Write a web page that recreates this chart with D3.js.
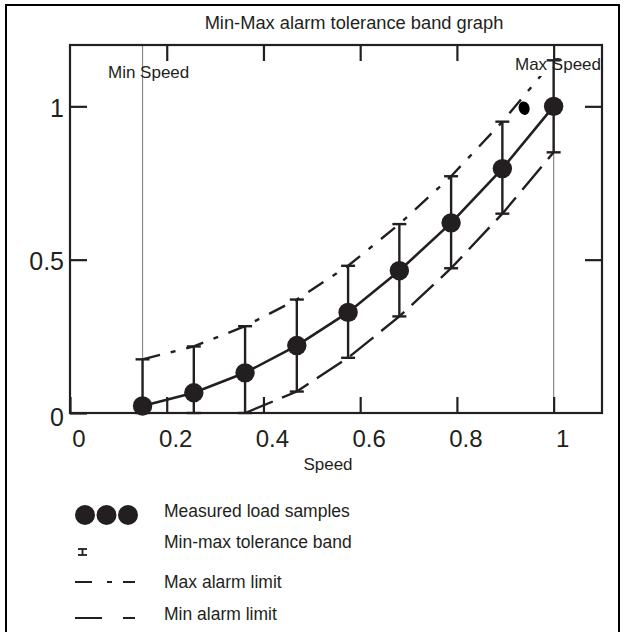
<!DOCTYPE html>
<html>
<head>
<meta charset="utf-8">
<script src="https://cdn.jsdelivr.net/npm/d3@7"></script>
<style>
  body { margin: 0; background: #fff; }
  svg text { font-family: 'Liberation Sans', Arial, sans-serif; fill: #231f20; }
</style>
</head>
<body>
<div id="chart"></div>
<script>
// speed of each measured sample (x) and its load (y)
const speeds = [0.15, 0.256, 0.362, 0.469, 0.575, 0.681, 0.788, 0.894, 1.0];
const loads = [0.023, 0.066, 0.131, 0.22, 0.328, 0.464, 0.62, 0.797, 1.0];
// min-max tolerance band around each sample
const bandLow = [0, 0, 0, 0.07, 0.18, 0.315, 0.472, 0.65, 0.85];
const bandHigh = [0.175, 0.217, 0.283, 0.37, 0.48, 0.616, 0.772, 0.95, 1.15];
// alarm limit lines (index range of the band they follow)
const maxAlarmIdx = [0, 1, 2, 3, 4, 5, 6, 7, 8];
const minAlarmIdx = [2, 3, 4, 5, 6, 7, 8];
// stray blob printed next to the max speed sample
const strayDot = { speed: 0.939, load: 0.994 };

const xTicks = [0, 0.2, 0.4, 0.6, 0.8, 1];
const yTicks = [0, 0.5, 1];
const minSpeed = 0.15;
const maxSpeed = 1.0;

const title = 'Min-Max alarm tolerance band graph';
const xTitle = 'Speed';
const legendItems = ['Measured load samples', 'Min-max tolerance band', 'Max alarm limit', 'Min alarm limit'];

const ink = '#231f20';
const W = 625;
const H = 632;
const plot = { left: 70, right: 602, top: 45, bottom: 413 };

const svg = d3.select('#chart')
  .append('svg')
  .attr('width', W)
  .attr('height', H);

// keeps the max alarm line out of the "Max Speed" label
svg.append('clipPath')
  .attr('id', 'belowLabels')
  .append('rect')
  .attr('x', plot.left)
  .attr('y', 76)
  .attr('width', plot.right - plot.left)
  .attr('height', plot.bottom - 76);

// outer frame of the figure
svg.append('rect')
  .attr('x', 6)
  .attr('y', 5)
  .attr('width', 613)
  .attr('height', 650)
  .attr('fill', 'none')
  .attr('stroke', '#000')
  .attr('stroke-width', 2);

svg.append('text')
  .attr('x', 354)
  .attr('y', 29)
  .attr('text-anchor', 'middle')
  .style('font-size', '18.3px')
  .text(title);

const x = d3.scaleLinear().domain([0, 1.1]).range([plot.left, plot.right]);
const y = d3.scaleLinear().domain([0, 1.2]).range([plot.bottom, plot.top]);

// speed reference lines
[minSpeed, maxSpeed].forEach((s) => {
  svg.append('line')
    .attr('x1', x(s))
    .attr('x2', x(s))
    .attr('y1', plot.top)
    .attr('y2', plot.bottom)
    .attr('stroke', '#8a8a8a')
    .attr('stroke-width', 1.2);
});

svg.append('text')
  .attr('x', 108)
  .attr('y', 78)
  .style('font-size', '17px')
  .text('Min Speed');
svg.append('text')
  .attr('x', 515)
  .attr('y', 70)
  .style('font-size', '17px')
  .text('Max Speed');

// axes: ticks point inwards on every side
const bottomAxis = svg.append('g')
  .attr('transform', `translate(0,${plot.bottom})`)
  .call(d3.axisBottom(x).tickValues(xTicks).tickSizeInner(-16).tickSizeOuter(0)
    .tickPadding(17).tickFormat((d) => d));
bottomAxis.selectAll('text')
  .attr('dx', 8.5)
  .style('font-size', '24px');

svg.append('g')
  .attr('transform', `translate(0,${plot.top})`)
  .call(d3.axisTop(x).tickValues(xTicks.slice(1)).tickSizeInner(-16).tickSizeOuter(0).tickFormat(''));

const leftAxis = svg.append('g')
  .attr('transform', `translate(${plot.left},0)`)
  .call(d3.axisLeft(y).tickValues(yTicks).tickSizeInner(-17).tickSizeOuter(0)
    .tickPadding(6).tickFormat((d) => d));
leftAxis.selectAll('text')
  .attr('dy', (d) => (d === 0 ? '0.5em' : '0.4em'))
  .style('font-size', '25px');

svg.append('g')
  .attr('transform', `translate(${plot.right},0)`)
  .call(d3.axisRight(y).tickValues(yTicks.slice(1)).tickSizeInner(-17).tickSizeOuter(0).tickFormat(''));

svg.selectAll('.tick line')
  .attr('stroke', ink)
  .attr('stroke-width', 2.2);
svg.selectAll('.domain').remove();

svg.append('rect')
  .attr('x', plot.left)
  .attr('y', plot.top)
  .attr('width', plot.right - plot.left)
  .attr('height', plot.bottom - plot.top)
  .attr('fill', 'none')
  .attr('stroke', ink)
  .attr('stroke-width', 2.2);

svg.append('text')
  .attr('x', 328)
  .attr('y', 470)
  .attr('text-anchor', 'middle')
  .style('font-size', '17px')
  .text(xTitle);

const line = d3.line()
  .x((d) => x(d[0]))
  .y((d) => y(d[1]));

// max alarm limit (dash-dot)
svg.append('path')
  .datum(maxAlarmIdx.map((i) => [speeds[i], bandHigh[i]]))
  .attr('d', line)
  .attr('clip-path', 'url(#belowLabels)')
  .attr('fill', 'none')
  .attr('stroke', ink)
  .attr('stroke-width', 2.4)
  .attr('stroke-dasharray', '18,11,5,11');

// min alarm limit (long dashes)
svg.append('path')
  .datum(minAlarmIdx.map((i) => [speeds[i], bandLow[i]]))
  .attr('d', line)
  .attr('fill', 'none')
  .attr('stroke', ink)
  .attr('stroke-width', 2.4)
  .attr('stroke-dasharray', '30,10');

// tolerance band bars
const capW = 7;
speeds.forEach((s, i) => {
  const g = svg.append('g')
    .attr('stroke', ink)
    .attr('stroke-width', 2.4);
  g.append('line')
    .attr('x1', x(s)).attr('x2', x(s))
    .attr('y1', y(bandLow[i])).attr('y2', y(bandHigh[i]));
  [bandLow[i], bandHigh[i]].forEach((v) => {
    g.append('line')
      .attr('x1', x(s) - capW).attr('x2', x(s) + capW)
      .attr('y1', y(v)).attr('y2', y(v));
  });
});

// measured load curve
svg.append('path')
  .datum(speeds.map((s, i) => [s, loads[i]]))
  .attr('d', line)
  .attr('fill', 'none')
  .attr('stroke', ink)
  .attr('stroke-width', 2.6);

svg.selectAll('.sample')
  .data(speeds)
  .enter()
  .append('circle')
  .attr('class', 'sample')
  .attr('cx', (d) => x(d))
  .attr('cy', (d, i) => y(loads[i]))
  .attr('r', 9.7)
  .attr('fill', ink);

svg.append('ellipse')
  .attr('cx', x(strayDot.speed))
  .attr('cy', y(strayDot.load))
  .attr('rx', 5.5)
  .attr('ry', 6.8)
  .attr('transform', `rotate(-15,${x(strayDot.speed)},${y(strayDot.load)})`)
  .attr('fill', '#000');

// legend
const legendY = [517, 548, 588, 620];
const legend = svg.append('g');
legendItems.forEach((t, i) => {
  legend.append('text')
    .attr('x', 164)
    .attr('y', legendY[i])
    .style('font-size', '17.5px')
    .text(t);
});

legend.selectAll('circle')
  .data([85, 106.5, 128])
  .enter()
  .append('circle')
  .attr('cx', (d) => d)
  .attr('cy', 515)
  .attr('r', 10)
  .attr('fill', ink);

const ibeam = legend.append('g')
  .attr('stroke', ink)
  .attr('stroke-width', 1.8);
ibeam.append('line').attr('x1', 82.5).attr('x2', 82.5).attr('y1', 549).attr('y2', 555);
ibeam.append('line').attr('x1', 78).attr('x2', 87).attr('y1', 549).attr('y2', 549);
ibeam.append('line').attr('x1', 78).attr('x2', 87).attr('y1', 555).attr('y2', 555);

legend.append('line')
  .attr('x1', 75).attr('x2', 135)
  .attr('y1', 582).attr('y2', 582)
  .attr('stroke', ink)
  .attr('stroke-width', 2.2)
  .attr('stroke-dasharray', '17,15,5,11,12');

legend.append('line')
  .attr('x1', 75).attr('x2', 135)
  .attr('y1', 618).attr('y2', 618)
  .attr('stroke', ink)
  .attr('stroke-width', 2.2)
  .attr('stroke-dasharray', '27,21,12');
</script>
</body>
</html>
